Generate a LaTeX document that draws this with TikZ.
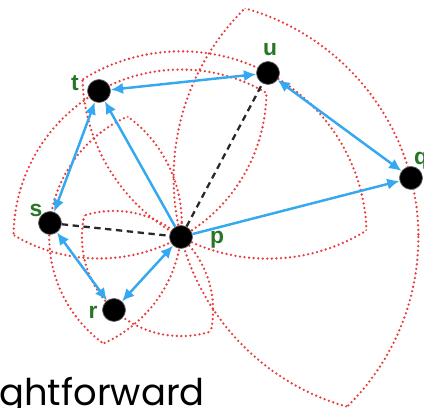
\documentclass[tikz,border=0pt]{standalone}
\usepackage{fontspec}
\setsansfont{Liberation Sans}
\newfontfamily\bigfont{Poppins}
\usetikzlibrary{arrows.meta}
\definecolor{lunered}{RGB}{232,60,60}
\definecolor{edgeblue}{RGB}{52,168,240}
\definecolor{labgreen}{RGB}{38,118,38}
\definecolor{dashgray}{RGB}{40,40,40}
\begin{document}
\begin{tikzpicture}[x=0.02cm,y=-0.02cm,
  >={Latex[length=7pt,width=6.5pt]},
  ptnode/.style={circle,fill=black,draw=black!60,line width=0.4pt,minimum size=0.46cm,inner sep=0pt},
  lab/.style={text=labgreen,inner sep=0pt,font=\sffamily\bfseries\fontsize{13}{13}\selectfont},
  lune/.style={draw=lunered,line width=1.45pt,dash pattern=on 0pt off 2.6pt,line cap=round},
  edge/.style={draw=edgeblue,line width=1.4pt},
  dashedge/.style={draw=dashgray,line width=1.3pt,dash pattern=on 3.6pt off 2.6pt}]
\useasboundingbox (0,0) rectangle (424,408);
\clip (0,0) rectangle (424,408);
% point positions
\coordinate (cp) at (181,237);
\coordinate (ct) at (99,91);
\coordinate (cu) at (268,73);
\coordinate (cq) at (411,178);
\coordinate (cs) at (50,223);
\coordinate (cr) at (114,310);
% lunes for the edges from p
\foreach \o/\R in {ct/167.45, cu/185.65, cq/237.4, cs/131.75, cr/99.09} {
  \begin{scope}
    \clip (\o) circle[radius=\R];
    \draw[lune] (cp) circle[radius=\R];
  \end{scope}
  \begin{scope}
    \clip (cp) circle[radius=\R];
    \draw[lune] (\o) circle[radius=\R];
  \end{scope}
}
% points
\node[ptnode] (p) at (cp) {};
\node[ptnode] (t) at (ct) {};
\node[ptnode] (u) at (cu) {};
\node[ptnode] (q) at (cq) {};
\node[ptnode] (s) at (cs) {};
\node[ptnode] (r) at (cr) {};
% labels
\node[lab] (lt) at (75,83) {t};
\node[lab] (lu) at (270,50) {u};
\node[lab] (lq) at (421,161) {q};
\node[lab] (ls) at (36,210) {s};
\node[lab] (lp) at (217,240) {p};
\node[lab] (lr) at (93,312) {r};
% dashed edges
\draw[dashedge] (s) -- (p);
\draw[dashedge] (p) -- (u);
% blue edges
\draw[edge,<->] (t) -- (u);
\draw[edge,->] (p) -- (t);
\draw[edge,<->] (s) -- (t);
\draw[edge,<->] (u) -- (q);
\draw[edge,->] (p) -- (q);
\draw[edge,<->] (s) -- (r);
\draw[edge,<->] (r) -- (p);
% caption fragment
\node[anchor=base west,inner sep=0pt,font=\bigfont\fontsize{21}{21}\selectfont] (word) at (-1,406) {ghtforward};
\end{tikzpicture}
\end{document}
